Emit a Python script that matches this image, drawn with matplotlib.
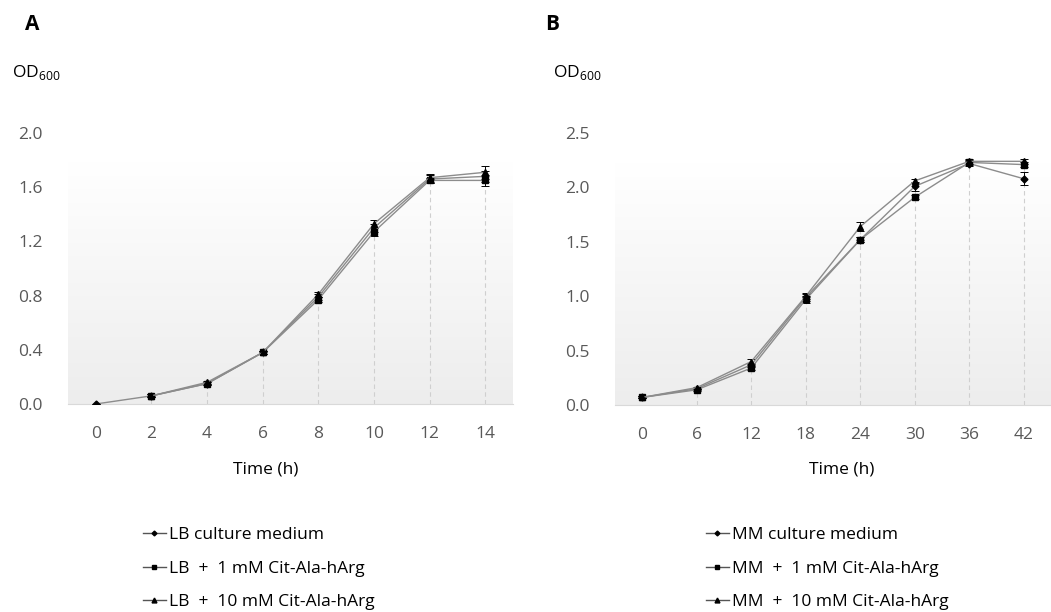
import numpy as np
import matplotlib
matplotlib.use("Agg")
import matplotlib.pyplot as plt
from matplotlib.lines import Line2D

plt.rcParams["font.family"] = ["Open Sans", "DejaVu Sans"]
plt.rcParams["mathtext.fontset"] = "custom"
plt.rcParams["mathtext.rm"] = "Open Sans"

# ---- data: panel A (LB medium) ----
time_a = [0, 2, 4, 6, 8, 10, 12, 14]
lb_ctrl = [0.00, 0.06, 0.15, 0.38, 0.79, 1.30, 1.66, 1.68]
lb_ctrl_err = [0.00, 0.01, 0.01, 0.01, 0.02, 0.03, 0.03, 0.04]
lb_1mm = [np.nan, 0.06, 0.15, 0.38, 0.77, 1.27, 1.65, 1.65]
lb_1mm_err = [0.00, 0.01, 0.01, 0.01, 0.02, 0.03, 0.02, 0.04]
lb_10mm = [np.nan, 0.06, 0.16, 0.38, 0.81, 1.33, 1.67, 1.71]
lb_10mm_err = [0.00, 0.01, 0.01, 0.01, 0.02, 0.03, 0.03, 0.05]

# ---- data: panel B (MM medium) ----
time_b = [0, 6, 12, 18, 24, 30, 36, 42]
mm_ctrl = [0.07, 0.15, 0.37, 0.99, 1.52, 2.01, 2.22, 2.08]
mm_ctrl_err = [0.01, 0.01, 0.02, 0.03, 0.02, 0.04, 0.02, 0.06]
mm_1mm = [0.07, 0.14, 0.34, 0.97, 1.52, 1.91, 2.23, 2.21]
mm_1mm_err = [0.01, 0.01, 0.02, 0.03, 0.02, 0.02, 0.02, 0.02]
mm_10mm = [0.07, 0.16, 0.40, 1.00, 1.64, 2.06, 2.24, 2.24]
mm_10mm_err = [0.01, 0.01, 0.02, 0.03, 0.04, 0.02, 0.02, 0.02]

labels_a = ["LB culture medium", "LB  +  1 mM Cit-Ala-hArg", "LB  +  10 mM Cit-Ala-hArg"]
labels_b = ["MM culture medium", "MM  +  1 mM Cit-Ala-hArg", "MM  +  10 mM Cit-Ala-hArg"]
markers = ["D", "s", "^"]
msizes = [3.5, 5, 5]

LINE = "#8c8c8c"
TICK = "#595959"

fig = plt.figure(figsize=(10.51, 6.12), dpi=100)
ax_a = fig.add_axes([0.0647, 0.3399, 0.4234, 0.4428])
ax_b = fig.add_axes([0.5852, 0.3382, 0.4148, 0.4444])


def draw_panel(ax, x, series, errs, xlim, ymax, ystep, grad_top):
    # soft gradient plot area
    grad = np.linspace(0, 1, 256).reshape(-1, 1)
    ax.imshow(grad, extent=[xlim[0], xlim[1], 0, grad_top], aspect="auto",
              cmap=matplotlib.colors.LinearSegmentedColormap.from_list(
                  "g", ["#ededed", "#ffffff"]),
              origin="lower", zorder=0)
    # drop lines
    tops = np.nanmax(np.array(series, dtype=float), axis=0)
    ax.vlines(x[1:], 0, tops[1:], colors="#cfcfcf", linestyles=(0, (4, 3)),
              linewidth=0.8, zorder=1)
    for y, e, m, ms in zip(series, errs, markers, msizes):
        ax.errorbar(x, y, yerr=e, fmt="-", color=LINE, lw=1.0,
                    marker=m, ms=ms, mfc="black", mec="black",
                    ecolor="black", elinewidth=0.7, capsize=3, capthick=0.7,
                    zorder=3)
    ax.set_xlim(*xlim)
    ax.set_ylim(0, ymax)
    ax.set_xticks(x)
    ax.set_yticks(np.arange(0, ymax + 1e-9, ystep))
    ax.yaxis.set_major_formatter(matplotlib.ticker.FormatStrFormatter("%.1f"))
    for s in ["top", "right", "left"]:
        ax.spines[s].set_visible(False)
    ax.spines["bottom"].set_color("#d9d9d9")
    ax.tick_params(length=0, labelsize=12.5, colors=TICK)
    ax.tick_params(axis="x", pad=16)
    ax.tick_params(axis="y", pad=18)


draw_panel(ax_a, time_a, [lb_ctrl, lb_1mm, lb_10mm],
           [lb_ctrl_err, lb_1mm_err, lb_10mm_err], (-1, 15), 2.0, 0.4, 1.78)
draw_panel(ax_b, time_b, [mm_ctrl, mm_1mm, mm_10mm],
           [mm_ctrl_err, mm_1mm_err, mm_10mm_err], (-3, 45), 2.5, 0.5, 2.22)

fig.text(32 / 1051, 1 - 24 / 612, "A", fontsize=15, fontweight="bold",
         ha="center", va="center")
fig.text(552 / 1051, 1 - 24 / 612, "B", fontsize=15, fontweight="bold",
         ha="center", va="center")
fig.text(12 / 1051, 1 - 73 / 612, r"OD$_\mathregular{600}$", fontsize=12.5,
         va="center")
fig.text(553 / 1051, 1 - 73 / 612, r"OD$_\mathregular{600}$", fontsize=12.5,
         va="center")
fig.text(266 / 1051, 1 - 470 / 612, "Time (h)", fontsize=12.5,
         ha="center", va="center")
fig.text(842 / 1051, 1 - 470 / 612, "Time (h)", fontsize=12.5,
         ha="center", va="center")

for lbls, xpos in [(labels_a, 143), (labels_b, 706)]:
    handles = [Line2D([], [], color="#555555", lw=1, marker=m, ms=ms * 0.7,
                      mfc="black", mec="black") for m, ms in zip(markers, msizes)]
    fig.legend(handles, lbls, loc="upper left",
               bbox_to_anchor=(xpos / 1051, 1 - 527 / 612),
               frameon=False, fontsize=12.5, handlelength=1.3,
               handletextpad=0.2, labelspacing=1.0, borderaxespad=0,
               borderpad=0)

fig.savefig("out.png", dpi=100)
